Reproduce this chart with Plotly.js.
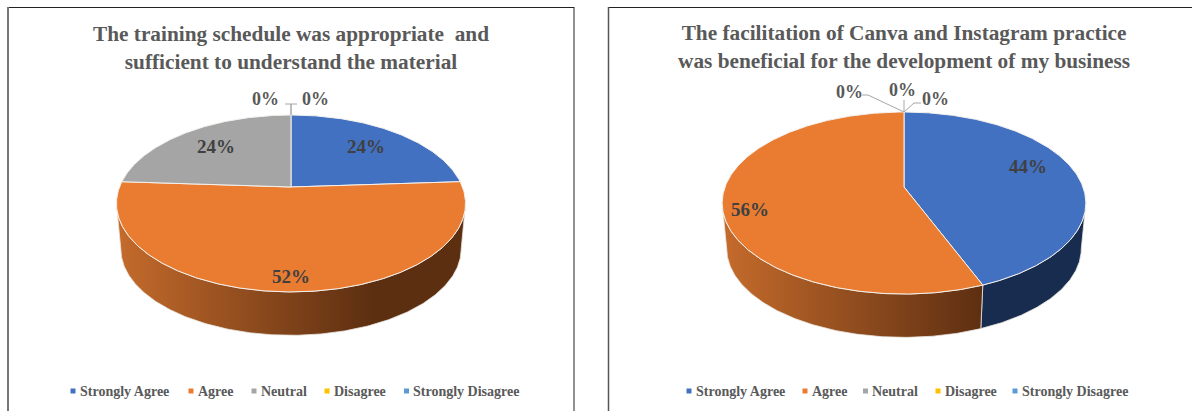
<!DOCTYPE html>
<html><head><meta charset="utf-8">
<script src="https://cdn.plot.ly/plotly-3.0.1.min.js"></script>
<style>html,body{margin:0;padding:0;background:#fff}#c{width:1192px;height:411px}</style>
</head><body><div id="c"></div>
<script>
const categories = ["Strongly Agree","Agree","Neutral","Disagree","Strongly Disagree"];
const topColors = ["#4271c1","#ea7c31","#a5a5a5","#ffc000","#5b9bd5"];
const scheduleValues = [24,52,24,0,0];
const canvaValues = [44,56,0,0,0];
const scheduleTitle = "The training schedule was appropriate  and<br>sufficient to understand the material";
const canvaTitle = "The facilitation of Canva and Instagram practice<br>was beneficial for the development of my business";

// geometry of the two tilted discs
const discs = [
  {values:scheduleValues,title:scheduleTitle,cx:291,cy:187,R:171.5,H:85.4,k:0.186,drop:46,titleX:291,titleY:48,
   labelR:[0.7,0.88,0.7,0,0],labelDy:[-1,0,-1,0,0],legendX:[73,191,254,327,406.5],
   zero:[{i:3,x:265,y:99,path:[[291,115],[291,104],[285,104]]},{i:4,x:315,y:99,path:[[291,115],[291,104],[297,104]]}]},
  {values:canvaValues,title:canvaTitle,cx:904,cy:187,R:179,H:88.2,k:0.176,drop:46,titleX:904,titleY:46.5,
   labelR:[0.72,0.85,0,0,0],labelDy:[-9,8,0,0,0],legendX:[689,805,865.5,938,1015],
   zero:[{i:2,x:849,y:92,path:[[904,112],[868,95],[862,95]]},{i:3,x:902,y:90,path:[[904,112],[904,100]]},{i:4,x:935,y:99,path:[[904,112],[914,103],[921,103]]}]}
];
const sideDark = {0:{solid:"#182c50"},1:{scale:[[0,"#c56b2c"],[1,"#5d2f11"]]}};

function proj(d,th,r=1,lower=false){
  const s=Math.sin(th)*r,c=Math.cos(th)*r,w=1+d.k*c,f=lower?0.975:1;
  return [d.cx+d.R*f*s/w, d.cy+(lower?d.drop:0)-d.H*f*c/w];
}
function arc(d,a,b,lower){
  const n=Math.max(2,Math.ceil(Math.abs(b-a)/0.01)),o=[];
  for(let i=0;i<=n;i++) o.push(proj(d,a+(b-a)*i/n,1,lower));
  return o;
}
const traces=[],annotations=[];
discs.forEach(d=>{
  let cum=0;
  const total=d.values.reduce((a,b)=>a+b,0);
  const tops=[],sides=[];
  const visA=Math.PI/2+Math.asin(d.k),visB=2*Math.PI-visA;
  d.values.forEach((v,i)=>{
    const a=cum/total*2*Math.PI; cum+=v; const b=cum/total*2*Math.PI;
    if(v===0) return;
    const sa=Math.max(a,visA),sb=Math.min(b,visB);
    if(sb>sa){
      const up=arc(d,sa,sb,false),lo=arc(d,sb,sa,true),pts=up.concat(lo,[up[0]]);
      const xs=pts.map(p=>p[0]);
      const t={x:xs,y:pts.map(p=>p[1]),mode:"lines",fill:"toself",hoverinfo:"skip",showlegend:false,
        line:{color:"#e8e4de",width:0.8}};
      const st=sideDark[i];
      if(st.solid){t.fillcolor=st.solid;}
      else{
        const x0=Math.min(...xs),x1=Math.max(...xs);
        const endX=d===discs[0]?d.cx+80:x1;
        t.fillgradient={type:"horizontal",start:x0,stop:endX,colorscale:st.scale};
      }
      sides.push(t);
    }
    const rim=arc(d,a,b,false);
    const pts=[[d.cx,d.cy]].concat(rim,[[d.cx,d.cy]]);
    tops.push({x:pts.map(p=>p[0]),y:pts.map(p=>p[1]),mode:"lines",fill:"toself",fillcolor:topColors[i],
      line:{color:"#f4f1ec",width:1},hoverinfo:"skip",showlegend:false});
    const m=proj(d,(a+b)/2,d.labelR[i]);
    annotations.push({x:m[0],y:m[1]+d.labelDy[i],xref:"x",yref:"y",text:"<b>"+v+"%</b>",showarrow:false,
      font:{family:"Liberation Serif",size:19,color:"#404040"}});
  });
  traces.push(...sides,...tops);
  d.zero.forEach(z=>{
    traces.push({x:z.path.map(p=>p[0]),y:z.path.map(p=>p[1]),mode:"lines",line:{color:"#a6a6a6",width:1},hoverinfo:"skip",showlegend:false});
    annotations.push({x:z.x,y:z.y,xref:"x",yref:"y",text:"<b>"+d.values[z.i]+"%</b>",showarrow:false,
      font:{family:"Liberation Serif",size:18,color:"#595959"}});
  });
  annotations.push({x:d.titleX,y:d.titleY,xref:"x",yref:"y",text:"<b>"+d.title+"</b>",showarrow:false,align:"center",
    font:{family:"Liberation Serif",size:21.3,color:"#595959"}});
  categories.forEach((c,i)=>{
    traces.push({x:[d.legendX[i]],y:[391],name:c,mode:"markers",
      marker:{symbol:"square",size:5,color:topColors[i]},hoverinfo:"skip",showlegend:false});
    annotations.push({x:d.legendX[i]+6.5,y:391,xref:"x",yref:"y",xanchor:"left",xshift:-1,text:"<b>"+c+"</b>",showarrow:false,borderpad:0,
      font:{family:"Liberation Serif",size:14,color:"#595959"}});
  });
});
const frame=(x0,x1,y,col,w)=>({type:"line",xref:"x",yref:"y",x0,x1,y0:y,y1:y,line:{color:col,width:w}});
const vline=(x,y0,y1,col,w)=>({type:"line",xref:"x",yref:"y",x0:x,x1:x,y0,y1,line:{color:col,width:w}});
const layout={
  width:1192,height:411,margin:{l:0,r:0,t:0,b:0},paper_bgcolor:"#fff",plot_bgcolor:"#fff",showlegend:false,
  xaxis:{range:[0,1192],visible:false,fixedrange:true},
  yaxis:{range:[411,0],visible:false,fixedrange:true},
  annotations,
  shapes:[frame(8,574,7.5,"#222",1),vline(8,7,411,"#777",2),vline(574,7,411,"#222",1),
          frame(608,1192,7.5,"#222",1),vline(608.5,7,411,"#555",1.5)]
};
Plotly.newPlot("c",traces,layout,{displayModeBar:false,staticPlot:true});
</script></body></html>
